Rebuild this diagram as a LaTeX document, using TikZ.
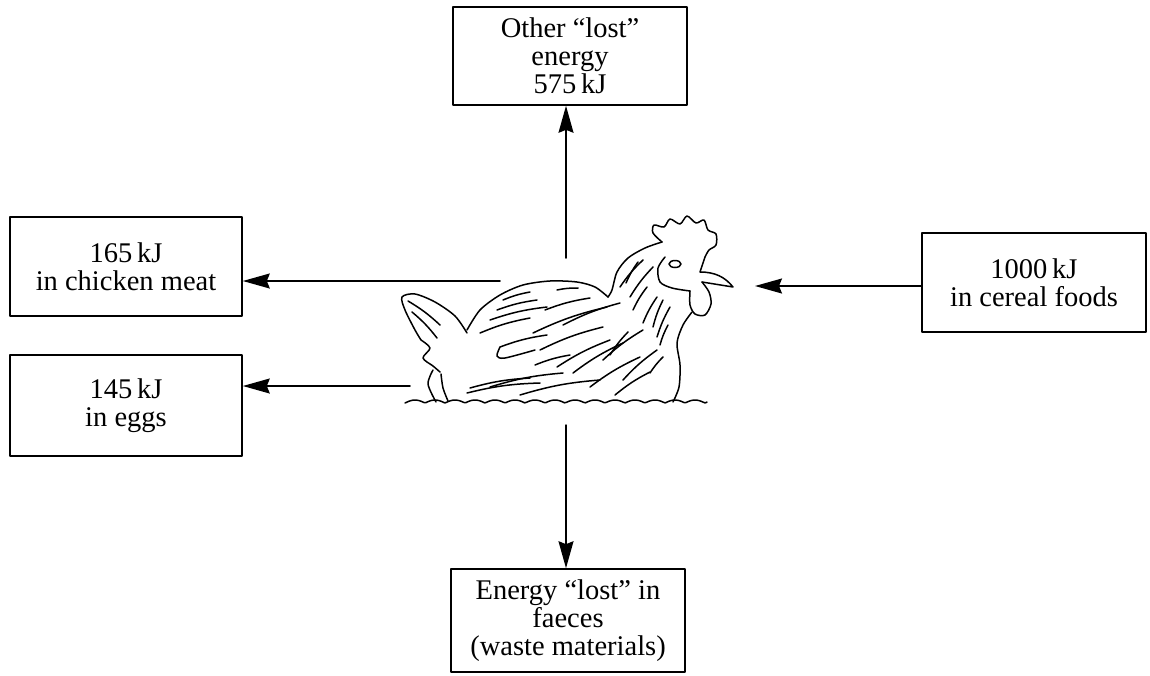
\documentclass[tikz,border=0pt]{standalone}
\usepackage{fontspec}
\setmainfont{Liberation Serif}
\usetikzlibrary{arrows.meta}
\begin{document}
\begin{tikzpicture}[x=1pt, y=-1pt, line join=round, line cap=round,
  >={Stealth[length=27pt,width=15pt,inset=3pt]},
  box/.style={draw, line width=1.6pt, align=center, inner sep=0pt,
    font=\fontsize{28.5}{28}\selectfont},
  flow/.style={->, line width=1.5pt},
  hen/.style={line width=1.5pt}]
\useasboundingbox (0,0) rectangle (1150,675);
\node[box, minimum width=234, minimum height=98] (lost) at (570,56) {Other “lost”\\energy\\575\,kJ};
\node[box, minimum width=232, minimum height=99] (meat) at (126,266.5) {165\,kJ\\in chicken meat};
\node[box, minimum width=232, minimum height=101] (eggs) at (126,405.5) {145\,kJ\\in eggs};
\node[box, minimum width=224, minimum height=99] (cereal) at (1034,282.5) {1000\,kJ\\in cereal foods};
\node[box, minimum width=234, minimum height=103] (faeces) at (568,620.5) {Energy “lost” in\\faeces\\(waste materials)};
\coordinate (lostfrom) at (566,258);
\coordinate (meatfrom) at (500,281);
\coordinate (eggsfrom) at (410,386);
\coordinate (faecesfrom) at (566,425);
\coordinate (cerealto) at (755,286);
\draw[flow] (lostfrom) -- (lostfrom |- lost.south);
\draw[flow] (meatfrom) -- (meat.east |- meatfrom);
\draw[flow] (eggsfrom) -- (eggs.east |- eggsfrom);
\draw[flow] (faecesfrom) -- (faecesfrom |- faeces.north);
\draw[flow] (cereal.west |- cerealto) -- (cerealto);
% hen
\draw[hen] plot[smooth] coordinates {(662,242) (653,233) (654,225) (664,227) (670,219) (680,224)
  (687,216) (696,223) (704,220) (708,230) (716,234) (716,245) (709,250) (705,257)};
\draw[hen] plot[smooth] coordinates {(662,242) (645,248) (628,258) (617,272) (612,290) (608,297)};
\draw[hen] plot[smooth] coordinates {(665,257) (658,268) (660,282) (672,288) (690,291)};
\draw[hen] (705,257) -- (700,272) .. controls (715,272) and (725,277) .. (733,287) -- (702,282);
\draw[hen] plot[smooth] coordinates {(702,282) (709,292) (711,304) (705,315) (695,314) (690,305) (690,291)};
\draw[hen] plot[smooth] coordinates {(692,312) (683,325) (677,343) (680,365) (679,387) (673,402)};
\draw[hen] (675,264) ellipse (6 and 3.5);
\draw[hen] plot[smooth] coordinates {(608,297) (595,287) (577,282) (550,281) (523,285) (500,295) (480,310) (467,330)};
\draw[hen] plot[smooth] coordinates {(467,333) (455,316) (435,302) (415,294) (402,297) (405,310) (415,330) (421,340)};
\draw[hen] plot[smooth] coordinates {(421,340) (430,348) (423,358) (433,366) (440,372)};
\draw[hen] plot[smooth] coordinates {(433,370) (428,384) (436,402)};
\draw[hen] plot[smooth] coordinates {(441,374) (443,388) (448,401)};
\draw[hen] plot[smooth] coordinates {(500,347) (497,356) (505,358) (535,350)};
\draw[hen] plot[domain=405:707, samples=160] (\x, {403-3*abs(sin((\x-405)*9))});
\foreach \xa/\ya/\xb/\yb in {408/301/440/325, 412/312/437/338, 480/333/530/318, 490/320/547/307,
  497/310/537/300, 503/300/530/292, 557/290/578/288, 500/347/547/335, 533/333/607/307,
  540/350/603/327, 557/367/610/340, 573/373/623/343, 467/393/540/383, 470/388/530/378,
  490/387/563/373, 590/387/640/357, 623/380/657/350, 603/360/643/330, 620/287/643/260,
  626/283/638/262, 630/297/653/267, 633/310/647/287, 643/323/657/297, 653/327/663/300,
  657/337/670/307, 650/373/663/357, 520/395/600/380, 615/395/650/372, 545/310/590/298,
  563/325/620/303, 535/365/570/355, 610/355/628/332, 660/345/668/325}
  \draw[hen] (\xa,\ya) to[bend left=6] (\xb,\yb);
\end{tikzpicture}
\end{document}
